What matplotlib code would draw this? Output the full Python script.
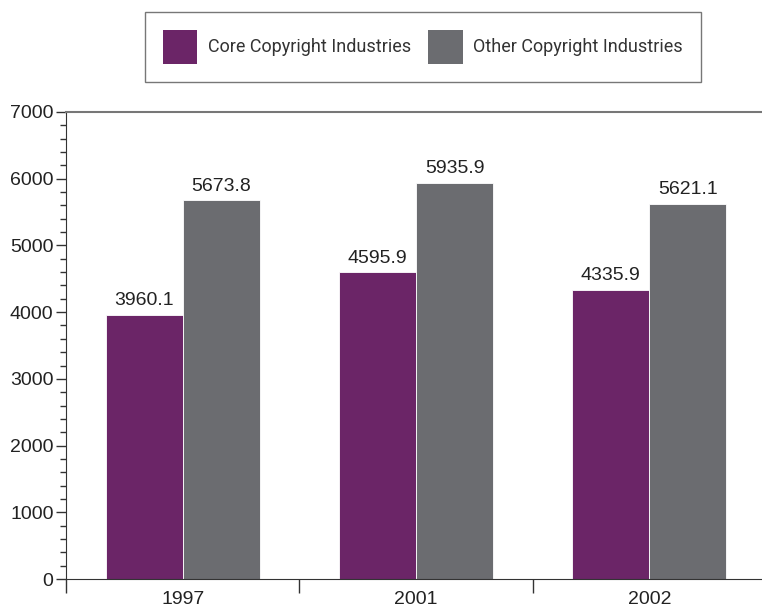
import matplotlib
matplotlib.use("Agg")

import matplotlib.pyplot as plt
from matplotlib.patches import Rectangle
from matplotlib.ticker import MultipleLocator, FixedLocator, NullFormatter
import numpy as np

years = ["1997", "2001", "2002"]
core = [3960.1, 4595.9, 4335.9]
other = [5673.8, 5935.9, 5621.1]
series_names = ["Core Copyright Industries", "Other Copyright Industries"]

PURPLE = "#6b2567"
GREY = "#6b6c70"

plt.rcParams['font.family'] = ['Liberation Sans', 'DejaVu Sans']

fig = plt.figure(figsize=(7.62, 6.12), dpi=100)
ax = fig.add_axes([66 / 762, 1 - 579 / 612, 1 - 66 / 762, (579 - 112) / 612])

x = np.arange(len(years))
w = 0.33
b1 = ax.bar(x - w / 2, core, w, color=PURPLE, edgecolor="white", linewidth=0.6)
b2 = ax.bar(x + w / 2, other, w, color=GREY, edgecolor="white", linewidth=0.6)

for bars, vals in ((b1, core), (b2, other)):
    for r, v in zip(bars, vals):
        ax.annotate(f"{v:.1f}", (r.get_x() + r.get_width() / 2, v),
                    xytext=(0, 4), textcoords="offset points",
                    ha="center", va="bottom", fontsize=14, color="#222222")

ax.set_xlim(-0.5, 2.5 - 4 / 233)
ax.set_ylim(0, 7000)

ax.yaxis.set_major_locator(MultipleLocator(1000))
ax.yaxis.set_minor_locator(MultipleLocator(200))
ax.tick_params(axis="y", which="major", length=7, width=1, labelsize=14,
               colors="#333333", pad=2, labelcolor="#222222")
ax.tick_params(axis="y", which="minor", length=4, width=1, colors="#333333")

ax.xaxis.set_major_locator(FixedLocator([-0.5, 0.5, 1.5]))
ax.xaxis.set_major_formatter(NullFormatter())
ax.xaxis.set_minor_locator(FixedLocator(x))
ax.set_xticklabels(years, minor=True)
ax.tick_params(axis="x", which="major", length=10, width=1, colors="#333333")
ax.tick_params(axis="x", which="minor", length=0, labelsize=14, pad=9,
               labelcolor="#222222")

ax.spines["right"].set_visible(False)
ax.spines["top"].set_color("#777777")
ax.spines["top"].set_linewidth(1.5)
ax.spines["left"].set_color("#333333")
ax.spines["bottom"].set_color("#333333")

# legend box drawn in figure coordinates
handles = [Rectangle((0, 0), 1, 1, facecolor=PURPLE, edgecolor="none"),
           Rectangle((0, 0), 1, 1, facecolor=GREY, edgecolor="none")]
leg = fig.legend(handles, series_names, ncol=2, loc="center",
                 bbox_to_anchor=((147 + 699) / 2 / 762, 1 - 47 / 612),
                 frameon=True, fancybox=False,
                 handlelength=1.9, handleheight=2.53, handletextpad=0.6,
                 columnspacing=0.95, borderpad=1.0, borderaxespad=0,
                 prop={"family": ["Roboto", "DejaVu Sans"], "size": 13})
leg.get_frame().set_edgecolor("#555555")
leg.get_frame().set_linewidth(1.0)
for t in leg.get_texts():
    t.set_color("#333333")

fig.savefig("out.png", dpi=100)
